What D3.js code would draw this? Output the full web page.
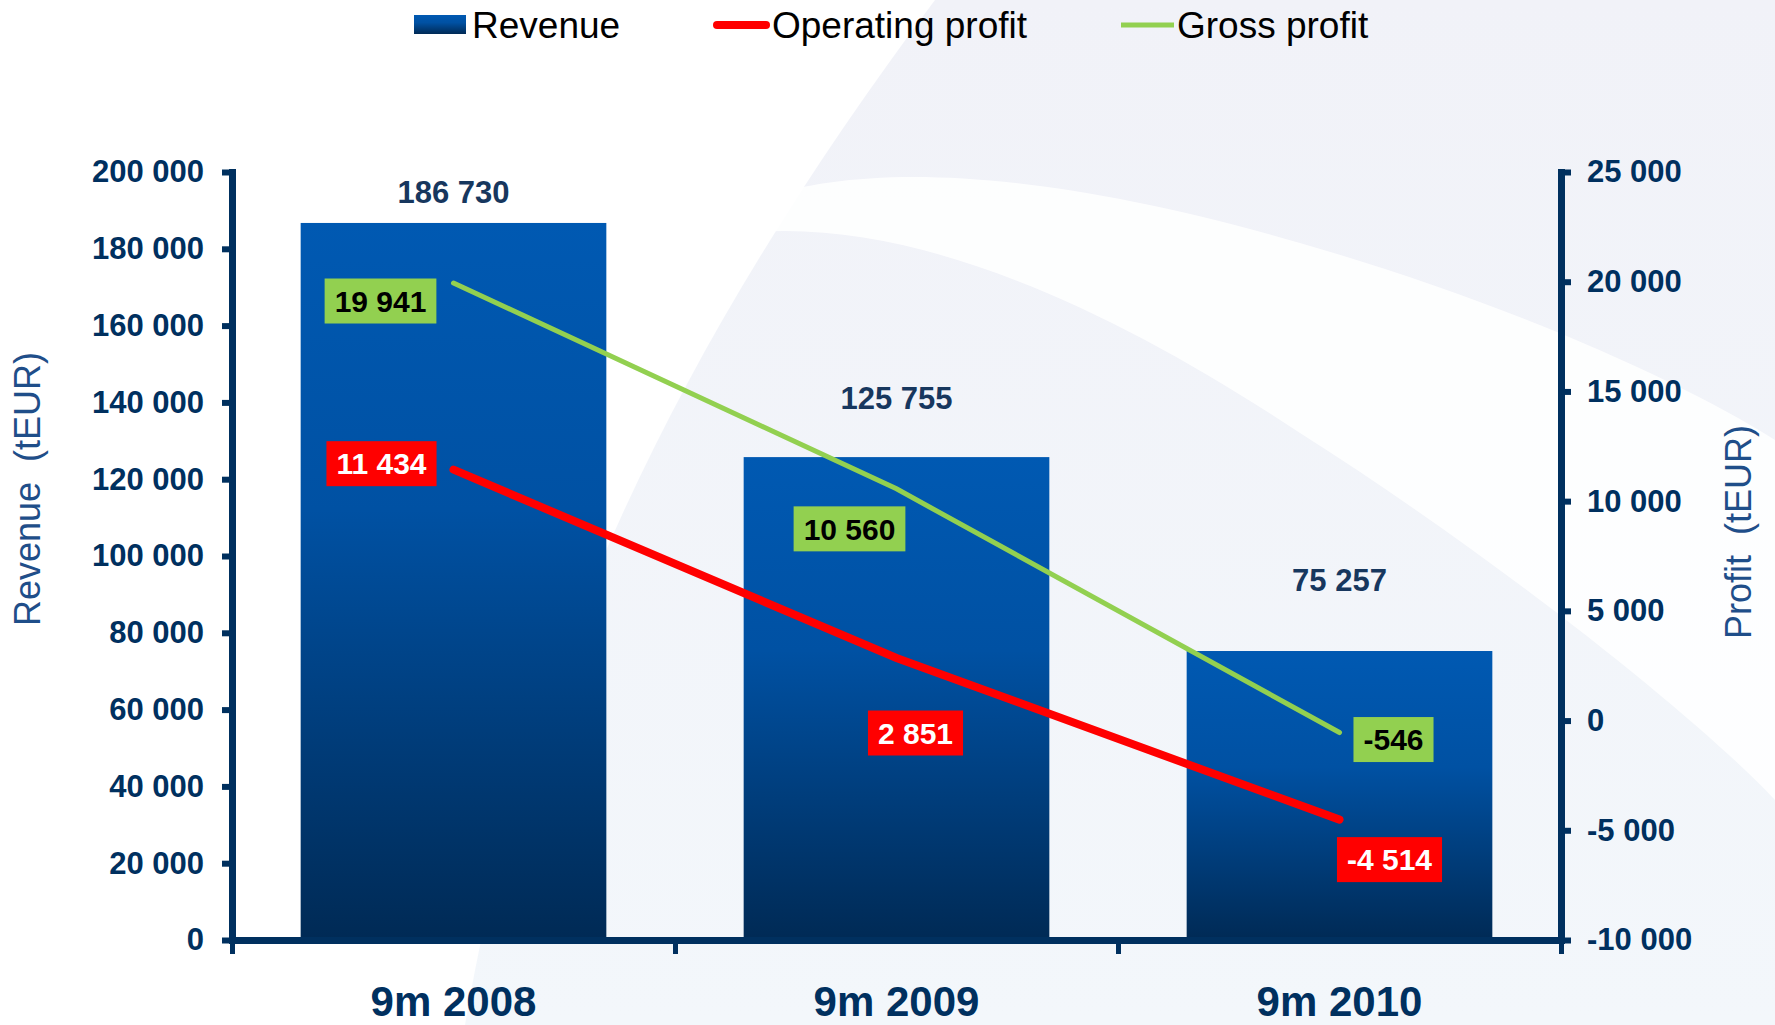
<!DOCTYPE html>
<html>
<head>
<meta charset="utf-8">
<script src="https://cdn.jsdelivr.net/npm/d3@7"></script>
<style>
  body { margin: 0; background: #fff; }
  svg { display: block; font-family: "Liberation Sans", Arial, sans-serif; }
</style>
</head>
<body>
<div id="chart"></div>
<script>
// chart data
var periods = ["9m 2008", "9m 2009", "9m 2010"];
var revenue = [186730, 125755, 75257];
var operatingProfit = [11434, 2851, -4514];
var grossProfit = [19941, 10560, -546];

// tick labels
var revenueTicks = [0, 20000, 40000, 60000, 80000, 100000, 120000, 140000, 160000, 180000, 200000];
var profitTicks = [-10000, -5000, 0, 5000, 10000, 15000, 20000, 25000];

// label placement (box centre relative to point), as in the original slide
var grossOffsets = [[-73, 18], [-47, 40], [54, 7]];
var opOffsets = [[-72, -6], [19, 75], [50, 40]];
var revLabelOffsets = [-20, -48, -60];

var svgWidth = 1775;
var svgHeight = 1025;
var navy = "#00305f";

var loc = d3.formatLocale({ decimal: ".", thousands: " ", grouping: [3], currency: ["", ""], minus: "-" });
var fmt = loc.format(",");

var svg = d3.select("#chart")
    .append("svg")
    .attr("width", svgWidth)
    .attr("height", svgHeight);

var defs = svg.append("defs");
var barGrad = defs.append("linearGradient")
    .attr("id", "barGrad")
    .attr("x1", 0).attr("y1", 0).attr("x2", 0).attr("y2", 1);
barGrad.append("stop").attr("offset", "0%").attr("stop-color", "#0059b2");
barGrad.append("stop").attr("offset", "40%").attr("stop-color", "#0051a3");
barGrad.append("stop").attr("offset", "100%").attr("stop-color", "#002a55");

var bgGrad = defs.append("linearGradient")
    .attr("id", "bgGrad")
    .attr("x1", 0).attr("y1", 0).attr("x2", 0).attr("y2", 1);
bgGrad.append("stop").attr("offset", "0%").attr("stop-color", "#f1f2f8");
bgGrad.append("stop").attr("offset", "100%").attr("stop-color", "#f3f7fb");

// background swoosh (kept faint like the slide)
svg.append("rect").attr("width", svgWidth).attr("height", svgHeight).attr("fill", "#fff");
svg.append("path")
    .attr("d", "M935,0 L1775,0 L1775,1025 L465,1025 C520,700 650,380 935,0 Z")
    .attr("fill", "url(#bgGrad)");
svg.append("path")
    .attr("d", "M700,228 C790,165 980,150 1300,243 C1500,300 1680,380 1775,440 L1775,800 C1700,720 1500,560 1300,433 C1100,300 880,200 700,240 Z")
    .attr("fill", "#ffffff")
    .attr("opacity", 0.85);

// plot area
var x0 = 232, x1 = 1561, yTop = 172, yBottom = 940;

var xscale = d3.scaleBand()
    .domain(periods)
    .range([x0, x1])
    .paddingInner(0.31)
    .paddingOuter(0.155);

var yRev = d3.scaleLinear()
    .domain([0, 200000])
    .range([yBottom, yTop]);

var yProfit = d3.scaleLinear()
    .domain([-10000, 25000])
    .range([yBottom, yTop]);

// bars
svg.append("g").selectAll("rect")
    .data(revenue)
    .enter()
    .append("rect")
    .attr("x", (d, i) => xscale(periods[i]))
    .attr("y", d => yRev(d))
    .attr("width", xscale.bandwidth())
    .attr("height", d => yBottom - yRev(d))
    .attr("fill", "url(#barGrad)");

// revenue labels
svg.append("g").selectAll("text")
    .data(revenue)
    .enter()
    .append("text")
    .attr("x", (d, i) => xscale(periods[i]) + xscale.bandwidth() / 2)
    .attr("y", (d, i) => yRev(d) + revLabelOffsets[i])
    .attr("text-anchor", "middle")
    .style("font-size", "31px")
    .style("font-weight", "bold")
    .style("fill", "#17375e")
    .text(d => fmt(d));

// axes
var leftAxis = d3.axisLeft(yRev)
    .tickValues(revenueTicks)
    .tickFormat(fmt)
    .tickSize(10)
    .tickSizeOuter(0)
    .tickPadding(18);

var rightAxis = d3.axisRight(yProfit)
    .tickValues(profitTicks)
    .tickFormat(fmt)
    .tickSize(10)
    .tickSizeOuter(0)
    .tickPadding(16);

var tickScale = d3.scaleLinear().domain([0, 3]).range([x0, x1]);
var bottomTicks = d3.axisBottom(tickScale)
    .tickValues([0, 1, 2, 3])
    .tickFormat("")
    .tickSize(14)
    .tickSizeOuter(0);

var bottomLabels = d3.axisBottom(xscale)
    .tickSize(0)
    .tickPadding(36);

function styleAxis(g) {
    g.select(".domain").attr("stroke", navy).attr("stroke-width", 7).attr("stroke-linecap", "square");
    g.selectAll(".tick line").attr("stroke", navy).attr("stroke-width", 6);
    g.selectAll(".tick text")
        .attr("fill", navy)
        .style("font-size", "31px")
        .style("font-weight", "bold")
        .style("font-family", "'Liberation Sans', Arial, sans-serif");
}

svg.append("g")
    .attr("transform", `translate(0, ${yBottom})`)
    .call(bottomTicks)
    .call(g => {
        g.select(".domain").attr("stroke", navy).attr("stroke-width", 7);
        g.selectAll(".tick line").attr("stroke", navy).attr("stroke-width", 5);
    });

svg.append("g")
    .attr("transform", `translate(0, ${yBottom})`)
    .call(bottomLabels)
    .call(g => {
        g.select(".domain").remove();
        g.selectAll(".tick text")
            .attr("fill", navy)
            .attr("dy", "0.95em")
            .style("font-size", "42px")
            .style("font-weight", "bold")
            .style("font-family", "'Liberation Sans', Arial, sans-serif");
    });

svg.append("g")
    .attr("transform", `translate(${x0}, 0)`)
    .call(leftAxis)
    .call(styleAxis);

svg.append("g")
    .attr("transform", `translate(${x1}, 0)`)
    .call(rightAxis)
    .call(styleAxis);

// axis titles
svg.append("text")
    .attr("transform", "translate(40, 489) rotate(-90)")
    .attr("text-anchor", "middle")
    .style("font-size", "36px")
    .style("fill", "#1f4e89")
    .text("Revenue\u00a0\u00a0(tEUR)");

svg.append("text")
    .attr("transform", "translate(1751, 532) rotate(-90)")
    .attr("text-anchor", "middle")
    .style("font-size", "36px")
    .style("fill", "#1f4e89")
    .text("Profit\u00a0\u00a0(tEUR)");

// lines
var line = d3.line()
    .x((d, i) => xscale(periods[i]) + xscale.bandwidth() / 2)
    .y(d => yProfit(d));

svg.append("path")
    .datum(grossProfit)
    .attr("d", line)
    .attr("fill", "none")
    .attr("stroke", "#92d050")
    .attr("stroke-width", 5)
    .attr("stroke-linecap", "round");

svg.append("path")
    .datum(operatingProfit)
    .attr("d", line)
    .attr("fill", "none")
    .attr("stroke", "#ff0000")
    .attr("stroke-width", 8)
    .attr("stroke-linecap", "round");

// boxed data labels
function addLabels(values, offsets, boxColor, textColor) {
    var g = svg.append("g").selectAll("g")
        .data(values)
        .enter()
        .append("g")
        .attr("transform", (d, i) => {
            var cx = xscale(periods[i]) + xscale.bandwidth() / 2 + offsets[i][0];
            var cy = yProfit(d) + offsets[i][1];
            return `translate(${cx}, ${cy})`;
        });
    g.append("text")
        .attr("text-anchor", "middle")
        .attr("dy", "0.36em")
        .style("font-size", "30px")
        .style("font-weight", "bold")
        .style("fill", textColor)
        .text(d => fmt(d));
    g.each(function () {
        var t = d3.select(this).select("text");
        var w = t.node().getComputedTextLength();
        d3.select(this).insert("rect", "text")
            .attr("x", -w / 2 - 10)
            .attr("y", -22.5)
            .attr("width", w + 20)
            .attr("height", 45)
            .attr("fill", boxColor);
    });
}

addLabels(grossProfit, grossOffsets, "#92d050", "#000");
addLabels(operatingProfit, opOffsets, "#ff0000", "#fff");

// legend
var legend = svg.append("g");
legend.append("rect")
    .attr("x", 414).attr("y", 15).attr("width", 52).attr("height", 19)
    .attr("fill", "url(#barGrad)");
legend.append("text").attr("x", 472).attr("y", 38)
    .style("font-size", "37px").style("fill", "#000").text("Revenue");
legend.append("line")
    .attr("x1", 717).attr("x2", 766).attr("y1", 25).attr("y2", 25)
    .attr("stroke", "#ff0000").attr("stroke-width", 8).attr("stroke-linecap", "round");
legend.append("text").attr("x", 772).attr("y", 38)
    .style("font-size", "37px").style("fill", "#000").text("Operating profit");
legend.append("line")
    .attr("x1", 1121).attr("x2", 1174).attr("y1", 25).attr("y2", 25)
    .attr("stroke", "#92d050").attr("stroke-width", 5);
legend.append("text").attr("x", 1177).attr("y", 38)
    .style("font-size", "37px").style("fill", "#000").text("Gross profit");
</script>
</body>
</html>
